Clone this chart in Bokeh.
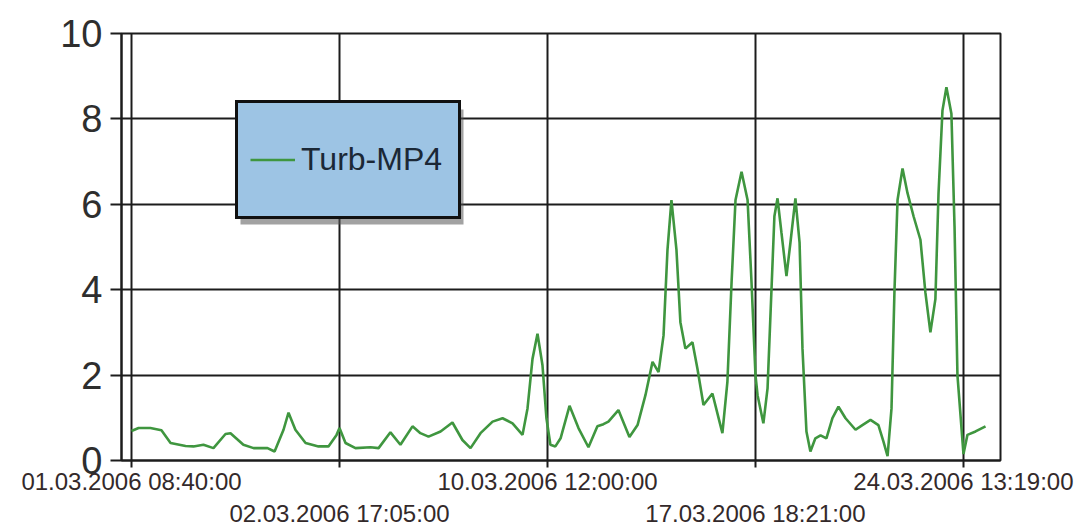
from bokeh.plotting import figure
from bokeh.models import FixedTicker, LinearAxis, Legend, LegendItem, BoxAnnotation, Range1d
from bokeh.embed import file_html
from bokeh.resources import INLINE

# ---- data ----
sample_idx = [0, 3.4, 9.1, 14.4, 18.8, 26.0, 29.8, 34.6, 39.4, 45.2, 47.6, 53.8, 58.7, 65.4, 68.8,
              73.1, 75.5, 78.8, 83.7, 89.9, 94.7, 98.6, 100.0, 102.9, 107.7, 114.9, 118.8, 124.5,
              129.3, 135.1, 138.9, 142.8, 148.6, 154.3, 159.1, 163.0, 167.8, 173.6, 178.4, 183.2,
              188.0, 190.4, 192.8, 195.2, 197.6, 199.5, 201.4, 203.8, 206.3, 210.6, 214.9, 219.7,
              224.0, 226.9, 229.3, 234.1, 239.4, 243.3, 247.1, 250.5, 253.4, 255.8, 257.7, 259.6,
              262.0, 263.9, 266.3, 269.7, 272.1, 275.0, 279.3, 282.7, 284.1, 286.5, 288.5, 290.4,
              293.3, 296.2, 298.1, 300.0, 301.0, 303.8, 305.8, 307.7, 309.1, 310.6, 312.5, 314.9,
              316.8, 319.2, 321.2, 322.6, 324.5, 326.4, 328.8, 331.3, 334.1, 337.0, 339.9, 343.3,
              348.1, 351.4, 355.3, 359.1, 361.5, 363.5, 365.4, 366.8, 368.3, 370.7, 373.1, 376.0,
              379.3, 381.7, 384.1, 386.5, 388.0, 389.9, 391.8, 394.2, 395.7, 397.1, 400.0, 401.9,
              405.8, 410.6]
turb_mp4 = [0.69, 0.76, 0.76, 0.71, 0.41, 0.34, 0.33, 0.37, 0.29, 0.62, 0.64, 0.37, 0.29, 0.29, 0.21,
            0.72, 1.12, 0.72, 0.41, 0.33, 0.33, 0.60, 0.76, 0.41, 0.29, 0.31, 0.29, 0.66,
            0.37, 0.80, 0.64, 0.56, 0.68, 0.89, 0.48, 0.29, 0.64, 0.91, 0.99, 0.87,
            0.60, 1.22, 2.38, 2.97, 2.23, 0.99, 0.37, 0.33, 0.52, 1.28, 0.76, 0.31,
            0.80, 0.85, 0.91, 1.18, 0.55, 0.83, 1.53, 2.31, 2.07, 2.93, 4.94, 6.10,
            4.94, 3.24, 2.62, 2.77, 2.15, 1.30, 1.57, 0.91, 0.64, 1.84, 4.17, 6.10,
            6.76, 6.10, 4.17, 2.00, 1.53, 0.87, 1.69, 4.01, 5.72, 6.14, 5.33, 4.32,
            5.10, 6.14, 5.10, 2.62, 0.68, 0.21, 0.52, 0.59, 0.52, 0.99, 1.26, 0.99,
            0.72, 0.83, 0.95, 0.83, 0.45, 0.10, 1.22, 3.93, 6.10, 6.84, 6.26, 5.72,
            5.17, 3.93, 3.00, 3.78, 6.26, 8.20, 8.74, 8.12, 5.48, 2.00, 0.15, 0.60,
            0.68, 0.80]
series_name = "Turb-MP4"
x_tick_pos_row1 = [0, 200, 400]
x_tick_lab_row1 = ["01.03.2006 08:40:00", "10.03.2006 12:00:00", "24.03.2006 13:19:00"]
x_tick_pos_row2 = [100, 300]
x_tick_lab_row2 = ["02.03.2006 17:05:00", "17.03.2006 18:21:00"]
y_ticks = [0, 2, 4, 6, 8, 10]

# ---- figure ----
p = figure(width=1081, height=529, output_backend="svg", toolbar_location=None,
           x_range=Range1d(-4.8, 417.8), y_range=Range1d(0, 10),
           min_border_left=121, min_border_right=81, min_border_top=33, min_border_bottom=67,
           background_fill_color="white", border_fill_color="white")

INK = "#1c1c1c"
p.outline_line_color = INK
p.outline_line_width = 2
p.outline_line_alpha = 1

all_x_ticks = sorted(x_tick_pos_row1 + x_tick_pos_row2)
p.xgrid.ticker = FixedTicker(ticks=all_x_ticks)
p.ygrid.ticker = FixedTicker(ticks=y_ticks)
for g in (p.xgrid, p.ygrid):
    g.grid_line_color = INK
    g.grid_line_width = 2
    g.grid_line_alpha = 1

# y axis
ya = p.yaxis[0]
ya.ticker = FixedTicker(ticks=y_ticks)
ya.major_label_text_font = "Liberation Sans"
ya.major_label_text_font_size = "38px"
ya.major_label_text_color = "#2e2e2e"
ya.major_tick_out = 11
ya.major_tick_in = 0
ya.major_tick_line_width = 2
ya.major_tick_line_color = INK
ya.minor_tick_line_color = None
ya.axis_line_color = INK
ya.axis_line_width = 2
ya.major_label_standoff = 8

# x axis row 1 (with tick marks)
xa = p.xaxis[0]
xa.ticker = FixedTicker(ticks=all_x_ticks)
ov1 = {t: "" for t in all_x_ticks}
ov1.update(dict(zip(x_tick_pos_row1, x_tick_lab_row1)))
xa.major_label_overrides = ov1
xa.major_label_text_font = "Liberation Sans"
xa.major_label_text_font_size = "24px"
xa.major_label_text_color = "#33292a"
xa.major_tick_out = 7
xa.major_tick_in = 0
xa.major_tick_line_width = 2
xa.major_tick_line_color = INK
xa.minor_tick_line_color = None
xa.axis_line_color = INK
xa.axis_line_width = 2
xa.major_label_standoff = 0

# x axis row 2 (staggered labels)
xa2 = LinearAxis(ticker=FixedTicker(ticks=x_tick_pos_row2),
                 major_label_overrides=dict(zip(x_tick_pos_row2, x_tick_lab_row2)),
                 axis_line_color=None, major_tick_line_color=None, minor_tick_line_color=None,
                 major_tick_out=0, major_tick_in=0, major_label_standoff=2,
                 major_label_text_font="Liberation Sans", major_label_text_font_size="24px",
                 major_label_text_color="#33292a")
p.add_layout(xa2, "below")

# data line
r = p.line(sample_idx, turb_mp4, line_color="#3f963f", line_width=2.6)

# legend shadow + legend (screen units: x from frame left, y up from frame bottom)
shadow = BoxAnnotation(left=119, right=342, top=351, bottom=236,
                       left_units="screen", right_units="screen",
                       top_units="screen", bottom_units="screen",
                       fill_color="#555555", fill_alpha=0.55, line_color=None)
p.add_layout(shadow)

legend = Legend(items=[LegendItem(label=series_name, renderers=[r])],
                location=(114, 241), margin=0, padding=12,
                glyph_width=45, glyph_height=89, label_height=89, label_width=145,
                label_standoff=6,
                label_text_font="Liberation Sans", label_text_font_size="32px",
                label_text_color="#1b2836",
                background_fill_color="#9dc4e4", background_fill_alpha=1,
                border_line_color="#111111", border_line_width=3, border_line_alpha=1)
p.add_layout(legend)

open("out.html", "w").write(file_html(p, INLINE))
